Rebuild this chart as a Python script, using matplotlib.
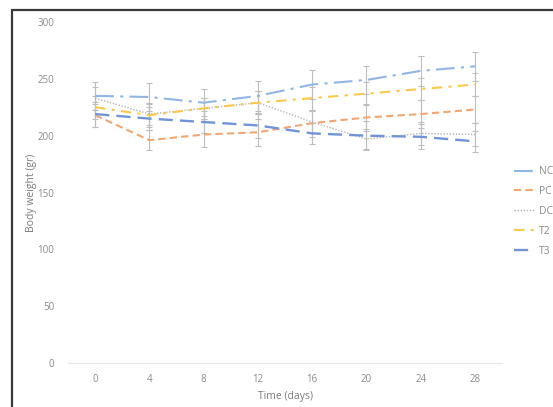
import matplotlib
matplotlib.use("Agg")
import matplotlib.pyplot as plt
from matplotlib.patches import Rectangle

plt.rcParams['font.family'] = ['Open Sans', 'DejaVu Sans']

# 데이터
days = [0, 4, 8, 12, 16, 20, 24, 28]
nc = [235, 234, 229, 235, 245, 249, 257, 261]
pc = [218, 196, 201, 203, 211, 216, 219, 223]
dc = [233, 219, 224, 229, 212, 197, 202, 201]
t2 = [225, 218, 224, 229, 233, 237, 241, 245]
t3 = [219, 215, 212, 209, 202, 200, 199, 195]

nc_err = [12, 12, 12, 13, 13, 12, 13, 13]
pc_err = [10, 9, 11, 12, 12, 12, 12, 12]
dc_err = [10, 10, 9, 10, 10, 9, 10, 10]
t2_err = [10, 10, 9, 10, 10, 10, 10, 10]
t3_err = [11, 10, 10, 11, 9, 13, 11, 9]

labels = ["NC", "PC", "DC", "T2", "T3"]
series = [nc, pc, dc, t2, t3]
errors = [nc_err, pc_err, dc_err, t2_err, t3_err]
colors = ["#8fb6e6", "#f3a572", "#b5b5b5", "#f9c94a", "#6f95d8"]
styles = [(0, (9, 3, 1.5, 3)), (0, (3.5, 2)), (0, (1, 1.2)),
          (0, (5, 3, 1.5, 3)), (0, (6, 3))]
widths = [1.5, 1.5, 1.0, 1.5, 1.7]

fig = plt.figure(figsize=(5.53, 4.07), dpi=100)
ax = fig.add_axes([0.123, 0.108, 0.785, 0.838])

for y, e in zip(series, errors):
    ax.errorbar(days, y, yerr=e, fmt='none', ecolor='#bdbdbd',
                elinewidth=0.8, capsize=2.5, capthick=0.8, zorder=1)
for y, lab, c, ls, lw in zip(series, labels, colors, styles, widths):
    ax.plot(days, y, color=c, linestyle=ls, linewidth=lw, label=lab, zorder=2)

ax.set_xlim(-2, 30)
ax.set_ylim(0, 300)
ax.set_xticks(days)
ax.set_yticks(range(0, 301, 50))
ax.tick_params(axis='y', length=0, labelsize=7, colors='#8a8a8a', pad=10)
ax.tick_params(axis='x', length=0, labelsize=7, colors='#8a8a8a', pad=8)
for s in ['top', 'right', 'left']:
    ax.spines[s].set_visible(False)
ax.spines['bottom'].set_color('#e6e6e6')
ax.set_xlabel("Time (days)", fontsize=7.5, color='#7a7a7a', labelpad=4)
ax.set_ylabel("Body weight (gr)", fontsize=7.5, color='#7a7a7a', labelpad=0)

leg = fig.legend(loc='upper left', bbox_to_anchor=(0.922, 0.602), frameon=False,
                 fontsize=7.5, handlelength=2.0, handletextpad=0.4,
                 labelspacing=0.85, borderaxespad=0)
for t in leg.get_texts():
    t.set_color('#8a8a8a')

# 바깥 테두리
fig.patches.append(Rectangle((12 / 553, -0.05), 1.1, 1.05 - 10 / 407,
                             transform=fig.transFigure, fill=False,
                             edgecolor='#3a3a3a', linewidth=1.6))

fig.savefig("out.png", dpi=100)
